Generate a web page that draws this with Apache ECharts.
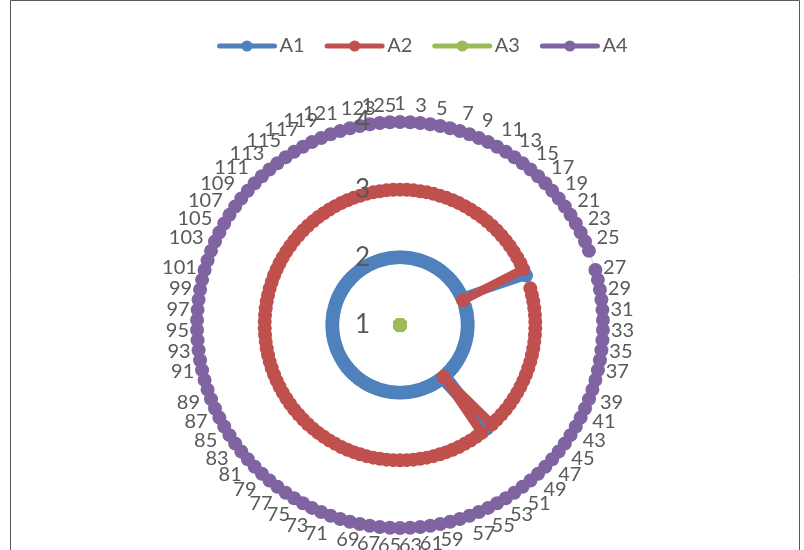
<!DOCTYPE html>
<html>
<head>
<meta charset="utf-8">
<script src="https://cdn.jsdelivr.net/npm/echarts@6/dist/echarts.min.js"></script>
<style>html,body{margin:0;padding:0;background:#fff}#c{width:804px;height:550px}</style>
</head>
<body>
<div id="c"></div>
<script>
const categories = [
  '1','2','3','4','5','6','7','8','9','10',
  '11','12','13','14','15','16','17','18','19','20',
  '21','22','23','24','25','26','27','28','29','30',
  '31','32','33','34','35','36','37','38','39','40',
  '41','42','43','44','45','46','47','48','49','50',
  '51','52','53','54','55','56','57','58','59','60',
  '61','62','63','64','65','66','67','68','69','70',
  '71','72','73','74','75','76','77','78','79','80',
  '81','82','83','84','85','86','87','88','89','90',
  '91','92','93','94','95','96','97','98','99','100',
  '101','102','103','104','105','106','107','108','109','110',
  '111','112','113','114','115','116','117','118','119','120',
  '121','122','123','124','125','126'
];
const A1 = [
  2,2,2,2,2,2,2,2,2,2,
  2,2,2,2,2,2,2,2,2,2,
  2,2,2,2,3,null,2,2,2,2,
  2,2,2,2,2,2,2,2,2,2,
  2,2,2,2,2,2,2,2,2,3,
  2,2,2,2,2,2,2,2,2,2,
  2,2,2,2,2,2,2,2,2,2,
  2,2,2,2,2,2,2,2,2,2,
  2,2,2,2,2,2,2,2,2,2,
  2,2,2,2,2,2,2,2,2,2,
  2,2,2,2,2,2,2,2,2,2,
  2,2,2,2,2,2,2,2,2,2,
  2,2,2,2,2,2
];
const A2 = [
  3,3,3,3,3,3,3,3,3,3,
  3,3,3,3,3,3,3,3,3,3,
  3,3,3,3,2,null,3,3,3,3,
  3,3,3,3,3,3,3,3,3,3,
  3,3,3,3,3,3,3,3,3,2,
  3,3,3,3,3,3,3,3,3,3,
  3,3,3,3,3,3,3,3,3,3,
  3,3,3,3,3,3,3,3,3,3,
  3,3,3,3,3,3,3,3,3,3,
  3,3,3,3,3,3,3,3,3,3,
  3,3,3,3,3,3,3,3,3,3,
  3,3,3,3,3,3,3,3,3,3,
  3,3,3,3,3,3
];
const A3 = [
  1,1,1,1,1,1,1,1,1,1,
  1,1,1,1,1,1,1,1,1,1,
  1,1,1,1,1,1,1,1,1,1,
  1,1,1,1,1,1,1,1,1,1,
  1,1,1,1,1,1,1,1,1,1,
  1,1,1,1,1,1,1,1,1,1,
  1,1,1,1,1,1,1,1,1,1,
  1,1,1,1,1,1,1,1,1,1,
  1,1,1,1,1,1,1,1,1,1,
  1,1,1,1,1,1,1,1,1,1,
  1,1,1,1,1,1,1,1,1,1,
  1,1,1,1,1,1,1,1,1,1,
  1,1,1,1,1,1
];
const A4 = [
  4,4,4,4,4,4,4,4,4,4,
  4,4,4,4,4,4,4,4,4,4,
  4,4,4,4,4,null,4,4,4,4,
  4,4,4,4,4,4,4,4,4,4,
  4,4,4,4,4,4,4,4,4,4,
  4,4,4,4,4,4,4,4,4,4,
  4,4,4,4,4,4,4,4,4,4,
  4,4,4,4,4,4,4,4,4,4,
  4,4,4,4,4,4,4,4,4,4,
  4,4,4,4,4,4,4,4,4,4,
  4,4,4,4,4,4,4,4,4,4,
  4,4,4,4,4,4,4,4,4,4,
  4,4,4,4,4,4
];
const seriesNames = ['A1','A2','A3','A4'];
const seriesColors = ['#4F81BD','#C0504D','#9BBB59','#8064A2'];
const radialTicks = {min: 1, max: 4, interval: 1};

// Build a closed loop in data order; a null breaks the ring, so start right after it.
function loopData(values) {
  const n = values.length;
  let nullIdx = values.findIndex(v => v === null || v === undefined);
  const out = [];
  if (nullIdx < 0) {
    for (let i = 0; i < n; i++) out.push([values[i], i]);
    out.push([values[0], 0]);
  } else {
    for (let k = 1; k < n; k++) {
      const i = (nullIdx + k) % n;
      if (values[i] === null || values[i] === undefined) continue;
      out.push([values[i], i]);
    }
  }
  return out;
}

const allValues = [A1, A2, A3, A4];
const FONT = 'Lato, "Open Sans", sans-serif';
const TXT = '#595959';
const polarBox = {center: [400, 325], radius: [0, 203]};
const chart = echarts.init(document.getElementById('c'), null, {renderer: 'canvas'});
chart.setOption({
  animation: false,
  backgroundColor: '#fff',
  graphic: [{
    type: 'rect', silent: true, z: -1,
    shape: {x: 10.5, y: 0.5, width: 789, height: 570},
    style: {fill: 'none', stroke: TXT, lineWidth: 1}
  }],
  legend: {
    top: 31, left: 212, itemGap: 20, itemWidth: 55, itemHeight: 14,
    lineStyle: {width: 5},
    textStyle: {fontSize: 20, color: TXT, fontFamily: FONT},
    data: seriesNames
  },
  // polar 0: gridlines beneath the series; polar 1: same frame, labels above the series
  polar: [Object.assign({}, polarBox), Object.assign({}, polarBox)],
  angleAxis: [{
    polarIndex: 0, type: 'category', data: categories, startAngle: 90, clockwise: true, boundaryGap: false,
    axisLine: {show: true, lineStyle: {color: '#D9D9D9', width: 1}},
    axisTick: {show: false}, splitLine: {show: false}, axisLabel: {show: false}
  }, {
    polarIndex: 1, type: 'category', data: categories, startAngle: 90, clockwise: true, boundaryGap: false,
    z: 10,
    axisLine: {show: false}, axisTick: {show: false}, splitLine: {show: false},
    axisLabel: {interval: 1, fontSize: 20, color: TXT, fontFamily: FONT, margin: 8}
  }],
  radiusAxis: [{
    polarIndex: 0, type: 'value', min: radialTicks.min, max: radialTicks.max, interval: radialTicks.interval,
    axisLine: {show: false}, axisTick: {show: false}, axisLabel: {show: false},
    splitLine: {show: true, lineStyle: {color: '#D9D9D9', width: 1}}
  }, {
    polarIndex: 1, type: 'value', min: radialTicks.min, max: radialTicks.max, interval: radialTicks.interval,
    z: 10,
    axisLine: {show: false}, axisTick: {show: false}, splitLine: {show: false},
    axisLabel: {fontSize: 26, color: TXT, fontFamily: FONT, margin: 30}
  }],
  series: seriesNames.map((name, s) => ({
    name: name, type: 'line', coordinateSystem: 'polar', polarIndex: 0,
    data: loopData(allValues[s]),
    clip: false,
    symbol: 'circle', symbolSize: 14, showSymbol: true, showAllSymbol: true,
    lineStyle: {width: 9, color: seriesColors[s], cap: 'round', join: 'round'},
    itemStyle: {color: seriesColors[s]},
    color: seriesColors[s],
    z: 2 + s
  }))
});
</script>
</body>
</html>
